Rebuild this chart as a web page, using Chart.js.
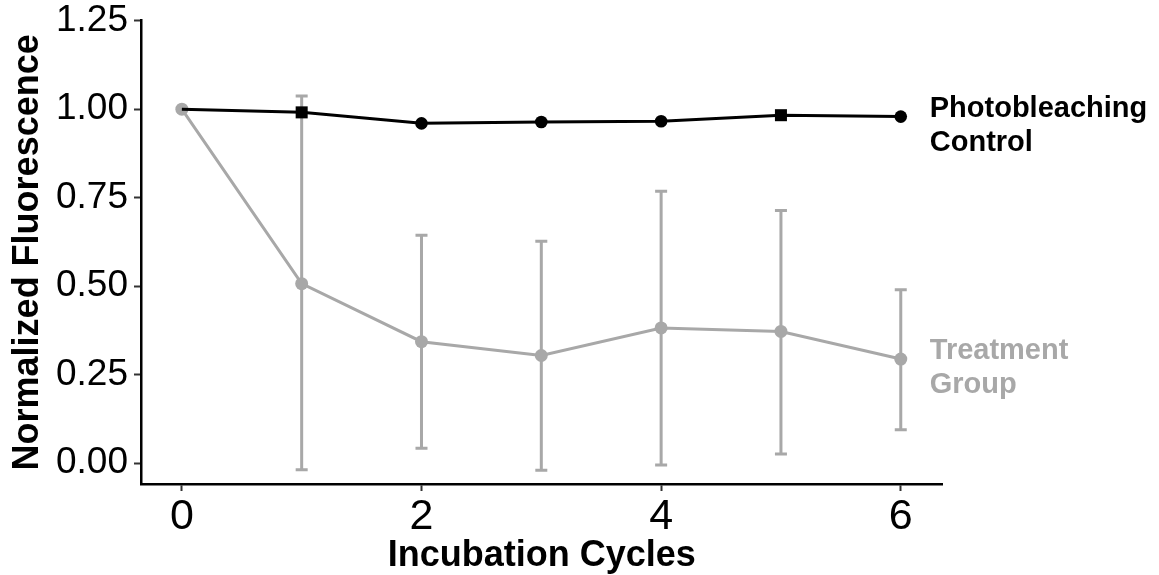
<!DOCTYPE html>
<html>
<head>
<meta charset="utf-8">
<script src="https://cdn.jsdelivr.net/npm/chart.js@4.4.1/dist/chart.umd.min.js"></script>
<style>
html,body{margin:0;padding:0;background:#fff;}
#wrap{width:1159px;height:575px;}
</style>
</head>
<body>
<div id="wrap"><canvas id="c" width="1159" height="575"></canvas></div>
<script>
const cycles = [0, 1, 2, 3, 4, 5, 6];
const controlValues = [1.00, 0.991, 0.960, 0.964, 0.966, 0.983, 0.979];
const controlShapes = ['circle', 'rect', 'circle', 'circle', 'circle', 'rect', 'circle'];
const treatmentValues = [1.00, 0.507, 0.343, 0.304, 0.382, 0.372, 0.294];
const treatmentUpper = [null, 1.037, 0.644, 0.627, 0.768, 0.714, 0.490];
const treatmentLower = [null, -0.019, 0.042, -0.020, -0.005, 0.026, 0.094];
const yTicks = [0, 0.25, 0.5, 0.75, 1.0, 1.25];
const xTicks = [0, 2, 4, 6];
const controlLabel = ['Photobleaching', 'Control'];
const treatmentLabel = ['Treatment', 'Group'];

const GREY = '#a8a8a8';
const FONT = "'Liberation Sans', Arial, Helvetica, sans-serif";

const errorBars = {
  id: 'errorBars',
  beforeDatasetsDraw(chart) {
    const {ctx, scales: {x, y}} = chart;
    ctx.save();
    ctx.strokeStyle = GREY;
    ctx.lineWidth = 3;
    ctx.lineCap = 'butt';
    const half = 6;
    cycles.forEach((c, i) => {
      if (treatmentUpper[i] == null) return;
      const px = x.getPixelForValue(c);
      const pu = y.getPixelForValue(treatmentUpper[i]);
      const pl = y.getPixelForValue(treatmentLower[i]);
      ctx.beginPath();
      ctx.moveTo(px, pu); ctx.lineTo(px, pl);
      ctx.moveTo(px - half, pu); ctx.lineTo(px + half, pu);
      ctx.moveTo(px - half, pl); ctx.lineTo(px + half, pl);
      ctx.stroke();
    });
    ctx.restore();
  }
};

const endLabels = {
  id: 'endLabels',
  afterDatasetsDraw(chart) {
    const {ctx, scales: {x, y}} = chart;
    const last = cycles.length - 1;
    const lx = x.getPixelForValue(cycles[last]) + 29;
    ctx.save();
    ctx.font = "bold 29px " + FONT;
    ctx.textAlign = 'left';
    ctx.textBaseline = 'middle';
    const draw = (lines, val, color) => {
      const py = y.getPixelForValue(val);
      ctx.fillStyle = color;
      ctx.fillText(lines[0], lx, py - 8);
      ctx.fillText(lines[1], lx, py + 26);
    };
    draw(controlLabel, controlValues[last], '#000');
    draw(treatmentLabel, treatmentValues[last], GREY);
    ctx.restore();
  }
};

new Chart(document.getElementById('c'), {
  type: 'line',
  data: {
    datasets: [
      {
        label: 'Photobleaching Control',
        data: cycles.map((c, i) => ({x: c, y: controlValues[i]})),
        borderColor: '#000',
        backgroundColor: '#000',
        borderWidth: 3,
        pointStyle: controlShapes,
        pointRadius: controlShapes.map((s, i) => i === 0 ? 0 : (s === 'rect' ? 8.5 : 6.3)),
        pointBorderWidth: 0,
        pointBackgroundColor: '#000',
        tension: 0,
        clip: false
      },
      {
        label: 'Treatment Group',
        data: cycles.map((c, i) => ({x: c, y: treatmentValues[i]})),
        borderColor: GREY,
        backgroundColor: GREY,
        borderWidth: 3,
        pointStyle: 'circle',
        pointRadius: 6.5,
        pointBorderWidth: 0,
        pointBackgroundColor: GREY,
        tension: 0,
        clip: false
      }
    ]
  },
  options: {
    responsive: false,
    animation: false,
    devicePixelRatio: 1,
    layout: {padding: {left: 0, top: 20.7, right: 216.3, bottom: 0}},
    plugins: {legend: {display: false}, tooltip: {enabled: false}},
    scales: {
      x: {
        type: 'linear',
        min: -0.341,
        max: 6.35,
        afterBuildTicks(s) { s.ticks = xTicks.map(v => ({value: v})); },
        afterFit(s) { s.height = 91; s.paddingLeft = 0; s.paddingRight = 0; },
        grid: {display: true, drawOnChartArea: false, drawTicks: true, tickLength: 7, tickWidth: 2, color: '#333'},
        border: {display: true, color: '#000', width: 2.5},
        ticks: {color: '#000', font: {family: FONT, size: 43}, padding: 0, maxRotation: 0,
          callback: v => String(v)},
        title: {display: true, text: 'Incubation Cycles', color: '#000',
          font: {family: FONT, size: 36, weight: 'bold', lineHeight: 1.0}, padding: {top: 0, bottom: 1}}
      },
      y: {
        type: 'linear',
        min: -0.059,
        max: 1.25,
        afterBuildTicks(s) { s.ticks = yTicks.map(v => ({value: v})); },
        afterFit(s) { s.width = 141; s.paddingTop = 0; s.paddingBottom = 0; },
        grid: {display: true, drawOnChartArea: false, drawTicks: true, tickLength: 7, tickWidth: 2, color: '#333'},
        border: {display: true, color: '#000', width: 2.5},
        ticks: {color: '#000', font: {family: FONT, size: 37}, padding: 6,
          callback: v => v.toFixed(2)},
        title: {display: true, text: 'Normalized Fluorescence', color: '#000',
          font: {family: FONT, size: 36, weight: 'bold', lineHeight: 1.0}, padding: {top: 10, bottom: 0}}
      }
    }
  },
  plugins: [errorBars, endLabels]
});
</script>
</body>
</html>
